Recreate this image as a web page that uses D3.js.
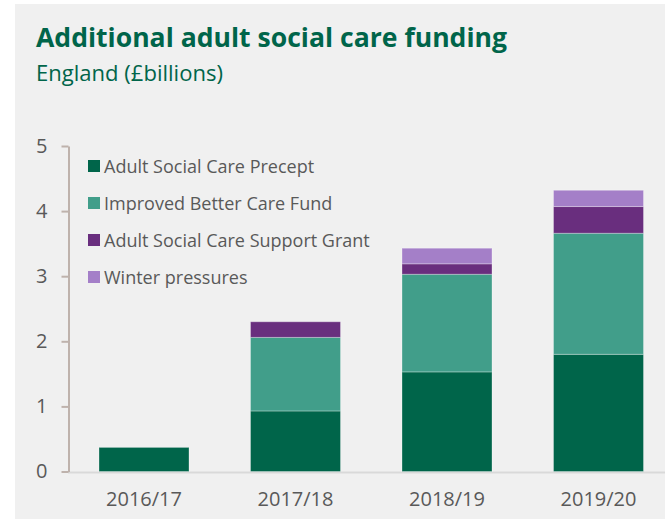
<!DOCTYPE html>
<html>
<head>
<meta charset="utf-8">
<script src="https://cdn.jsdelivr.net/npm/d3@7"></script>
<style>
  html, body { margin: 0; padding: 0; background: #ffffff; }
  svg { display: block; }
  text { font-family: "Open Sans", "Noto Sans", sans-serif; }
</style>
</head>
<body>
<svg id="chart" width="665" height="519"></svg>
<script>
// Financial years on the x axis
const years = ["2016/17", "2017/18", "2018/19", "2019/20"];

// Funding streams (£ billions), stacked bottom to top
const seriesNames = [
  "Adult Social Care Precept",
  "Improved Better Care Fund",
  "Adult Social Care Support Grant",
  "Winter pressures"
];
const precept      = [0.37, 0.93, 1.53, 1.80];
const betterCare   = [0,    1.13, 1.50, 1.86];
const supportGrant = [0,    0.24, 0.16, 0.41];
const winter       = [0,    0,    0.24, 0.25];

const yTicks = [0, 1, 2, 3, 4, 5];

const colors = ["#00654A", "#419E8A", "#692E7E", "#A47FC8"];

const rows = years.map((y, i) => ({
  year: y,
  [seriesNames[0]]: precept[i],
  [seriesNames[1]]: betterCare[i],
  [seriesNames[2]]: supportGrant[i],
  [seriesNames[3]]: winter[i]
}));

const svg = d3.select("#chart");
const W = 665, H = 519;

// panel background
svg.append("rect")
  .attr("x", 15).attr("y", 4)
  .attr("width", W - 15).attr("height", H - 4)
  .attr("fill", "#F0F0F0");

// title and subtitle
svg.append("text")
  .attr("x", 36).attr("y", 47)
  .attr("font-size", 27).attr("font-weight", 700)
  .attr("fill", "#00654A")
  .attr("textLength", 471).attr("lengthAdjust", "spacingAndGlyphs")
  .text("Additional adult social care funding");

svg.append("text")
  .attr("x", 36).attr("y", 81)
  .attr("font-size", 21)
  .attr("fill", "#00654A")
  .attr("textLength", 187).attr("lengthAdjust", "spacingAndGlyphs")
  .text("England (£billions)");

// scales
const x = d3.scaleBand()
  .domain(years)
  .range([68.25, 674.25])
  .paddingInner(0.406)
  .paddingOuter(0.203);

const y = d3.scaleLinear()
  .domain([0, 5])
  .range([471.5, 146]);

// x baseline
svg.append("line")
  .attr("x1", 68).attr("x2", W)
  .attr("y1", y(0) + 1).attr("y2", y(0) + 1)
  .attr("stroke", "#D9D9D9").attr("stroke-width", 2);

// stacked bars
const stack = d3.stack().keys(seriesNames);
const layers = stack(rows);

svg.append("g")
  .selectAll("g")
  .data(layers)
  .join("g")
  .attr("fill", (d, i) => colors[i])
  .selectAll("rect")
  .data(d => d.filter(p => p[1] - p[0] > 0))
  .join("rect")
  .attr("x", d => x(d.data.year))
  .attr("width", x.bandwidth())
  .attr("y", d => y(d[1]))
  .attr("height", d => y(d[0]) - y(d[1]))
  .attr("stroke", "rgba(255,255,255,0.3)")
  .attr("stroke-width", 1);

// y axis
const yAxis = d3.axisLeft(y)
  .tickValues(yTicks)
  .tickFormat(d3.format("d"))
  .tickSizeInner(7)
  .tickSizeOuter(0)
  .tickPadding(14);

const gy = svg.append("g")
  .attr("transform", "translate(68.5,0)")
  .call(yAxis);
gy.select(".domain").attr("stroke", "#BEB2AC").attr("stroke-width", 2);
gy.selectAll(".tick line").attr("stroke", "#BEB2AC").attr("stroke-width", 2);
gy.selectAll(".tick text")
  .attr("font-size", 20)
  .attr("fill", "#595959")
  .attr("font-family", "'Open Sans', sans-serif");

// x axis labels
const xAxis = d3.axisBottom(x).tickSize(0).tickPadding(20);
const gx = svg.append("g")
  .attr("transform", `translate(0,${y(0)})`)
  .call(xAxis);
gx.select(".domain").remove();
gx.selectAll(".tick text")
  .attr("font-size", 20)
  .attr("fill", "#595959")
  .attr("font-family", "'Open Sans', sans-serif");

// legend
const legend = svg.append("g")
  .selectAll("g")
  .data(seriesNames)
  .join("g")
  .attr("transform", (d, i) => `translate(88,${166 + i * 37})`);

legend.append("rect")
  .attr("x", 0).attr("y", -6)
  .attr("width", 12).attr("height", 12)
  .attr("fill", (d, i) => colors[i]);

legend.append("text")
  .attr("x", 16).attr("y", 6.5)
  .attr("font-size", 18)
  .attr("fill", "#595959")
  .text(d => d);
</script>
</body>
</html>
